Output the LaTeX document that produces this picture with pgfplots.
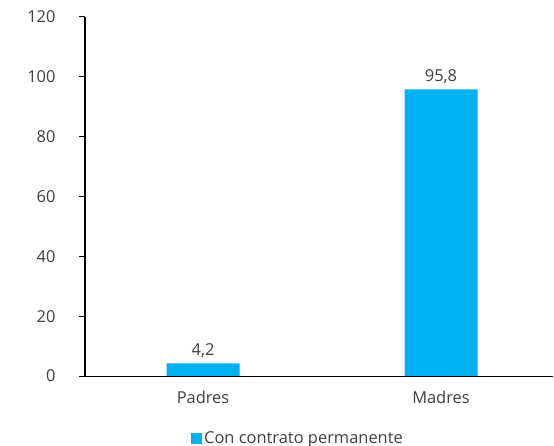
\documentclass[border=0pt]{standalone}
\usepackage{fontspec}
\setmainfont{Open Sans}
\usepackage{pgfplots}
\pgfplotsset{compat=1.18}
\definecolor{barblue}{HTML}{00B0F0}
\definecolor{txt}{HTML}{404040}
\begin{document}
\begin{tikzpicture}
\useasboundingbox (0,0) rectangle (554bp,446bp);
\begin{axis}[
  at={(85bp,70bp)}, anchor=south west,
  scale only axis, width=468bp, height=359bp,
  xmin=-0.496, xmax=1.4706, ymin=0, ymax=120,
  ytick={0,20,...,120},
  xtick={0,1}, xticklabels={Padres,Madres},
  axis x line=bottom, axis y line=left,
  axis line style={black, line width=1.1pt, -},
  x axis line style={line width=0.9pt},
  major tick length=6bp,
  xtick style={draw=none},
  ytick style={black, line width=1pt},
  tick align=outside,
  tick label style={font=\fontsize{16.5}{19}\selectfont, text=txt},
  /pgf/number format/assume math mode=true,
  yticklabel style={xshift=-20bp},
  xticklabel style={yshift=-5bp},
  ybar, bar width=73bp,
  nodes near coords={\pgfmathprintnumber[use comma,fixed,fixed zerofill,precision=1]{\pgfplotspointmeta}},
  nodes near coords style={font=\fontsize{16.5}{19}\selectfont, text=txt, yshift=2bp},
  legend style={at={(213bp,-62bp)}, anchor=center, draw=none, fill=none,
    font=\fontsize{16.5}{19}\selectfont, text=txt,
    inner sep=0pt, /tikz/every even column/.append style={column sep=0pt}},
  legend cell align=left,
  legend image code/.code={\fill[barblue] (0bp,-6bp) rectangle (11bp,5bp);},
]
\addplot[fill=barblue, draw=none] coordinates {(0,4.2) (1,95.8)};
\addlegendentry{\hspace{0bp}Con contrato permanente}
\end{axis}
\end{tikzpicture}
\end{document}
